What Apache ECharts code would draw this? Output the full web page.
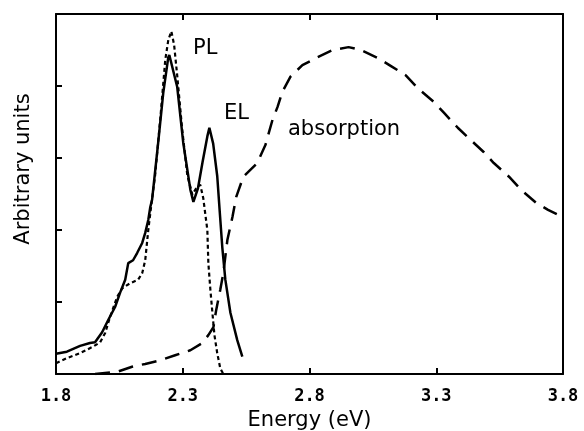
<!DOCTYPE html>
<html>
<head>
<meta charset="utf-8">
<script src="https://cdn.jsdelivr.net/npm/echarts@6/dist/echarts.min.js"></script>
<style>
html,body{margin:0;padding:0;background:#fff;}
#chart{width:584px;height:431px;}
</style>
</head>
<body>
<div id="chart"></div>
<script>
// Energy tick labels (eV)
var xTicks = [1.8, 2.3, 2.8, 3.3, 3.8];
var yTicks = [1, 2, 3, 4];

// EL (solid)
var elEnergy = [1.80,1.843,1.895,1.934,1.954,1.982,2.006,2.033,2.053,2.073,2.085,2.104,2.120,2.140,2.152,2.164,2.172,2.179,2.203,2.223,2.243,2.247,2.278,2.302,2.330,2.342,2.360,2.378,2.397,2.405,2.420,2.436,2.446,2.456,2.468,2.488,2.515,2.535];
var elValue  = [0.28,0.31,0.39,0.43,0.44,0.58,0.75,0.93,1.13,1.31,1.54,1.58,1.68,1.82,1.96,2.14,2.32,2.42,3.21,3.90,4.40,4.43,3.99,3.21,2.56,2.39,2.58,2.94,3.30,3.42,3.20,2.75,2.25,1.76,1.31,0.85,0.47,0.24];

// PL (short dashes)
var plEnergy = [1.80,1.843,1.895,1.946,1.974,1.994,2.013,2.041,2.061,2.092,2.124,2.140,2.152,2.164,2.175,2.191,2.211,2.231,2.243,2.255,2.266,2.278,2.298,2.318,2.338,2.353,2.369,2.381,2.397,2.401,2.409,2.417,2.425,2.436,2.448,2.460];
var plValue  = [0.15,0.22,0.29,0.38,0.44,0.57,0.79,1.07,1.19,1.26,1.31,1.40,1.58,2.00,2.32,2.76,3.53,4.36,4.64,4.76,4.57,4.15,3.39,2.76,2.49,2.58,2.63,2.44,2.00,1.54,1.17,0.85,0.54,0.29,0.08,0.0];

// Absorption (long dashes)
var absEnergy = [1.954,2.041,2.100,2.152,2.211,2.270,2.330,2.377,2.401,2.421,2.432,2.448,2.460,2.476,2.496,2.511,2.539,2.594,2.626,2.654,2.674,2.693,2.725,2.772,2.832,2.891,2.954,3.002,3.069,3.120,3.179,3.227,3.290,3.330,3.385,3.436,3.488,3.527,3.587,3.634,3.693,3.741,3.800];
var absValue  = [0.00,0.03,0.10,0.14,0.19,0.26,0.33,0.43,0.54,0.65,0.89,1.17,1.40,1.86,2.18,2.46,2.74,2.93,3.18,3.53,3.71,3.92,4.13,4.29,4.40,4.50,4.54,4.50,4.39,4.28,4.15,3.97,3.78,3.63,3.42,3.25,3.08,2.93,2.74,2.56,2.38,2.28,2.18];

function pairs(xs, ys){ return xs.map(function(x,i){ return [x, ys[i]]; }); }

var textFont = 'DejaVu Sans';
var chart = echarts.init(document.getElementById('chart'), null, {renderer:'canvas'});
var axisLineStyle = {color:'#000', width:2};
chart.setOption({
  animation:false,
  backgroundColor:'#fff',
  grid:{left:56, right:21, top:14, bottom:57, containLabel:false, outerBoundsMode:'none'},
  xAxis:[{
    type:'value', min:1.8, max:3.8, position:'bottom',
    splitLine:{show:false},
    axisLine:{show:true, onZero:false, lineStyle:axisLineStyle},
    axisTick:{show:true, inside:true, length:6, customValues:xTicks, lineStyle:{color:'#000', width:2}},
    axisLabel:{show:true, customValues:xTicks, formatter:function(v){return v.toFixed(1);}, color:'#000', fontFamily:'DejaVu Sans Mono', fontWeight:'bold', fontSize:17, margin:14},
    name:'Energy (eV)', nameLocation:'middle', nameGap:31,
    nameTextStyle:{color:'#000', fontFamily:textFont, fontSize:21}
  },{
    type:'value', min:1.8, max:3.8, position:'top',
    splitLine:{show:false},
    axisLine:{show:true, onZero:false, lineStyle:axisLineStyle},
    axisTick:{show:true, inside:true, length:6, customValues:xTicks, lineStyle:{color:'#000', width:2}},
    axisLabel:{show:false}
  }],
  yAxis:[{
    type:'value', min:0, max:5, interval:1, position:'left',
    splitLine:{show:false},
    axisLine:{show:true, onZero:false, lineStyle:axisLineStyle},
    axisTick:{show:true, inside:true, length:6, customValues:yTicks, lineStyle:{color:'#000', width:2}},
    axisLabel:{show:false},
    name:'Arbitrary units', nameLocation:'middle', nameGap:22,
    nameTextStyle:{color:'#000', fontFamily:textFont, fontSize:21, padding:[0,0,0,50]}
  },{
    type:'value', min:0, max:5, position:'right',
    splitLine:{show:false},
    axisLine:{show:true, onZero:false, lineStyle:axisLineStyle},
    axisTick:{show:false}, axisLabel:{show:false}
  }],
  series:[{
    name:'EL', type:'line', data:pairs(elEnergy, elValue), showSymbol:false, smooth:false,
    lineStyle:{color:'#000', width:2.5, type:'solid'}, z:3
  },{
    name:'PL', type:'line', data:pairs(plEnergy, plValue), showSymbol:false, smooth:false,
    lineStyle:{color:'#000', width:2.2, type:[4,3]}, z:2
  },{
    name:'absorption', type:'line', data:pairs(absEnergy, absValue), showSymbol:false, smooth:false,
    lineStyle:{color:'#000', width:2.5, type:[15,9]}, z:2
  }],
  graphic:[
    {type:'text', x:193, y:49, style:{text:'PL', fill:'#000', font:'21px "DejaVu Sans"', textVerticalAlign:'middle'}},
    {type:'text', x:224, y:114, style:{text:'EL', fill:'#000', font:'21px "DejaVu Sans"', textVerticalAlign:'middle'}},
    {type:'text', x:288, y:130, style:{text:'absorption', fill:'#000', font:'21px "DejaVu Sans"', textVerticalAlign:'middle'}}
  ]
});
</script>
</body>
</html>
